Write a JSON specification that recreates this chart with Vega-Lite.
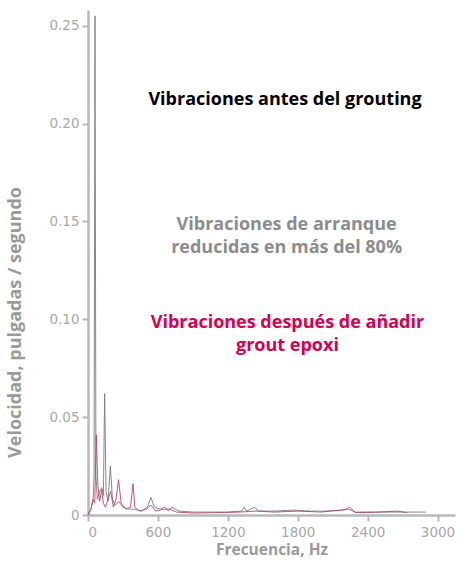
{
  "$schema": "https://vega.github.io/schema/vega-lite/v6.json",
  "width": 367,
  "height": 505,
  "autosize": {"type": "none"},
  "padding": {"left": 88, "top": 10, "right": 7, "bottom": 51},
  "background": "white",
  "config": {
    "view": {"stroke": null},
    "axis": {
      "grid": false,
      "domainColor": "#b8b8b8",
      "domainWidth": 2.5,
      "tickColor": "#b8b8b8",
      "tickWidth": 2,
      "tickSize": 6,
      "labelColor": "#a8a8a8",
      "labelFont": "DejaVu Sans",
      "labelFontSize": 13,
      "titleColor": "#999999",
      "titleFont": "Open Sans",
      "titleFontWeight": "bold",
      "titleFontSize": 15
    }
  },
  "datasets": {
    "series": [
      {"hz": 0, "v": 0.0, "serie": "antes"},
      {"hz": 25, "v": 0.003, "serie": "antes"},
      {"hz": 45, "v": 0.009, "serie": "antes"},
      {"hz": 52, "v": 0.02, "serie": "antes"},
      {"hz": 60, "v": 0.255, "serie": "antes"},
      {"hz": 68, "v": 0.02, "serie": "antes"},
      {"hz": 80, "v": 0.008, "serie": "antes"},
      {"hz": 100, "v": 0.012, "serie": "antes"},
      {"hz": 118, "v": 0.014, "serie": "antes"},
      {"hz": 132, "v": 0.01, "serie": "antes"},
      {"hz": 143, "v": 0.062, "serie": "antes"},
      {"hz": 155, "v": 0.012, "serie": "antes"},
      {"hz": 172, "v": 0.007, "serie": "antes"},
      {"hz": 192, "v": 0.025, "serie": "antes"},
      {"hz": 210, "v": 0.008, "serie": "antes"},
      {"hz": 235, "v": 0.005, "serie": "antes"},
      {"hz": 262, "v": 0.007, "serie": "antes"},
      {"hz": 300, "v": 0.004, "serie": "antes"},
      {"hz": 350, "v": 0.003, "serie": "antes"},
      {"hz": 400, "v": 0.003, "serie": "antes"},
      {"hz": 460, "v": 0.002, "serie": "antes"},
      {"hz": 510, "v": 0.004, "serie": "antes"},
      {"hz": 540, "v": 0.009, "serie": "antes"},
      {"hz": 570, "v": 0.004, "serie": "antes"},
      {"hz": 620, "v": 0.003, "serie": "antes"},
      {"hz": 660, "v": 0.004, "serie": "antes"},
      {"hz": 690, "v": 0.002, "serie": "antes"},
      {"hz": 720, "v": 0.004, "serie": "antes"},
      {"hz": 780, "v": 0.002, "serie": "antes"},
      {"hz": 900, "v": 0.0015, "serie": "antes"},
      {"hz": 1050, "v": 0.0015, "serie": "antes"},
      {"hz": 1200, "v": 0.0015, "serie": "antes"},
      {"hz": 1320, "v": 0.002, "serie": "antes"},
      {"hz": 1340, "v": 0.004, "serie": "antes"},
      {"hz": 1360, "v": 0.002, "serie": "antes"},
      {"hz": 1430, "v": 0.004, "serie": "antes"},
      {"hz": 1460, "v": 0.002, "serie": "antes"},
      {"hz": 1600, "v": 0.002, "serie": "antes"},
      {"hz": 1750, "v": 0.0025, "serie": "antes"},
      {"hz": 1900, "v": 0.002, "serie": "antes"},
      {"hz": 2050, "v": 0.002, "serie": "antes"},
      {"hz": 2200, "v": 0.0025, "serie": "antes"},
      {"hz": 2245, "v": 0.004, "serie": "antes"},
      {"hz": 2290, "v": 0.0015, "serie": "antes"},
      {"hz": 2450, "v": 0.0015, "serie": "antes"},
      {"hz": 2650, "v": 0.0015, "serie": "antes"},
      {"hz": 2900, "v": 0.0015, "serie": "antes"},
      {"hz": 0, "v": 0.0, "serie": "despues"},
      {"hz": 25, "v": 0.003, "serie": "despues"},
      {"hz": 45, "v": 0.008, "serie": "despues"},
      {"hz": 58, "v": 0.006, "serie": "despues"},
      {"hz": 71, "v": 0.041, "serie": "despues"},
      {"hz": 85, "v": 0.015, "serie": "despues"},
      {"hz": 100, "v": 0.007, "serie": "despues"},
      {"hz": 117, "v": 0.013, "serie": "despues"},
      {"hz": 132, "v": 0.006, "serie": "despues"},
      {"hz": 150, "v": 0.004, "serie": "despues"},
      {"hz": 172, "v": 0.008, "serie": "despues"},
      {"hz": 195, "v": 0.012, "serie": "despues"},
      {"hz": 218, "v": 0.004, "serie": "despues"},
      {"hz": 240, "v": 0.008, "serie": "despues"},
      {"hz": 262, "v": 0.018, "serie": "despues"},
      {"hz": 285, "v": 0.006, "serie": "despues"},
      {"hz": 325, "v": 0.003, "serie": "despues"},
      {"hz": 365, "v": 0.004, "serie": "despues"},
      {"hz": 386, "v": 0.016, "serie": "despues"},
      {"hz": 402, "v": 0.004, "serie": "despues"},
      {"hz": 440, "v": 0.002, "serie": "despues"},
      {"hz": 500, "v": 0.003, "serie": "despues"},
      {"hz": 540, "v": 0.005, "serie": "despues"},
      {"hz": 580, "v": 0.002, "serie": "despues"},
      {"hz": 650, "v": 0.003, "serie": "despues"},
      {"hz": 700, "v": 0.003, "serie": "despues"},
      {"hz": 760, "v": 0.0015, "serie": "despues"},
      {"hz": 900, "v": 0.001, "serie": "despues"},
      {"hz": 1100, "v": 0.0012, "serie": "despues"},
      {"hz": 1300, "v": 0.0015, "serie": "despues"},
      {"hz": 1450, "v": 0.002, "serie": "despues"},
      {"hz": 1600, "v": 0.0015, "serie": "despues"},
      {"hz": 1800, "v": 0.002, "serie": "despues"},
      {"hz": 2000, "v": 0.0015, "serie": "despues"},
      {"hz": 2240, "v": 0.003, "serie": "despues"},
      {"hz": 2300, "v": 0.0012, "serie": "despues"},
      {"hz": 2500, "v": 0.0015, "serie": "despues"},
      {"hz": 2650, "v": 0.002, "serie": "despues"},
      {"hz": 2740, "v": 0.0012, "serie": "despues"}
    ],
    "notas": [
      {"hz": 1691, "v": 0.2122, "grupo": "antes", "texto": ["Vibraciones antes del grouting"]},
      {"hz": 1705, "v": 0.1483, "grupo": "reduccion", "texto": ["Vibraciones de arranque", "reducidas en más del 80%"]},
      {"hz": 1712, "v": 0.0982, "grupo": "despues", "texto": ["Vibraciones después de añadir", "grout epoxi"]}
    ]
  },
  "layer": [
    {
      "data": {"name": "series"},
      "mark": {"type": "line", "strokeWidth": 0.9, "interpolate": "linear"},
      "encoding": {
        "x": {
          "field": "hz", "type": "quantitative",
          "scale": {"domain": [0, 3150], "nice": false, "zero": false},
          "axis": {"values": [0, 600, 1200, 1800, 2400, 3000], "format": "d", "labelFontSize": 13.5, "title": "Frecuencia, Hz", "titleFontSize": 15.5, "labelPadding": 4, "titlePadding": 4}
        },
        "y": {
          "field": "v", "type": "quantitative",
          "scale": {"domain": [0, 0.258], "nice": false},
          "axis": {
            "values": [0, 0.05, 0.1, 0.15, 0.2, 0.25],
            "labelExpr": "datum.value == 0 ? '0' : format(datum.value, '.2f')",
            "labelFontSize": 13.5,
            "labelPadding": 3,
            "title": "Velocidad, pulgadas / segundo",
            "titleFontSize": 18,
            "titleX": -64,
            "titleY": 312,
            "titleAnchor": null
          }
        },
        "color": {
          "field": "serie", "type": "nominal",
          "scale": {"domain": ["antes", "despues"], "range": ["#7a7a7a", "#b8456b"]},
          "legend": null
        },
        "detail": {"field": "serie"}
      }
    },
    {
      "data": {"name": "notas"},
      "mark": {"type": "text", "font": "Open Sans", "fontWeight": "bold", "fontSize": 18, "align": "center", "baseline": "middle", "lineHeight": 23},
      "encoding": {
        "x": {"field": "hz", "type": "quantitative"},
        "y": {"field": "v", "type": "quantitative"},
        "text": {"field": "texto"},
        "color": {
          "field": "grupo", "type": "nominal",
          "scale": {"domain": ["antes", "reduccion", "despues"], "range": ["#000000", "#8c8c8c", "#d6004f"]},
          "legend": null
        }
      }
    }
  ],
  "resolve": {"scale": {"color": "independent"}}
}
